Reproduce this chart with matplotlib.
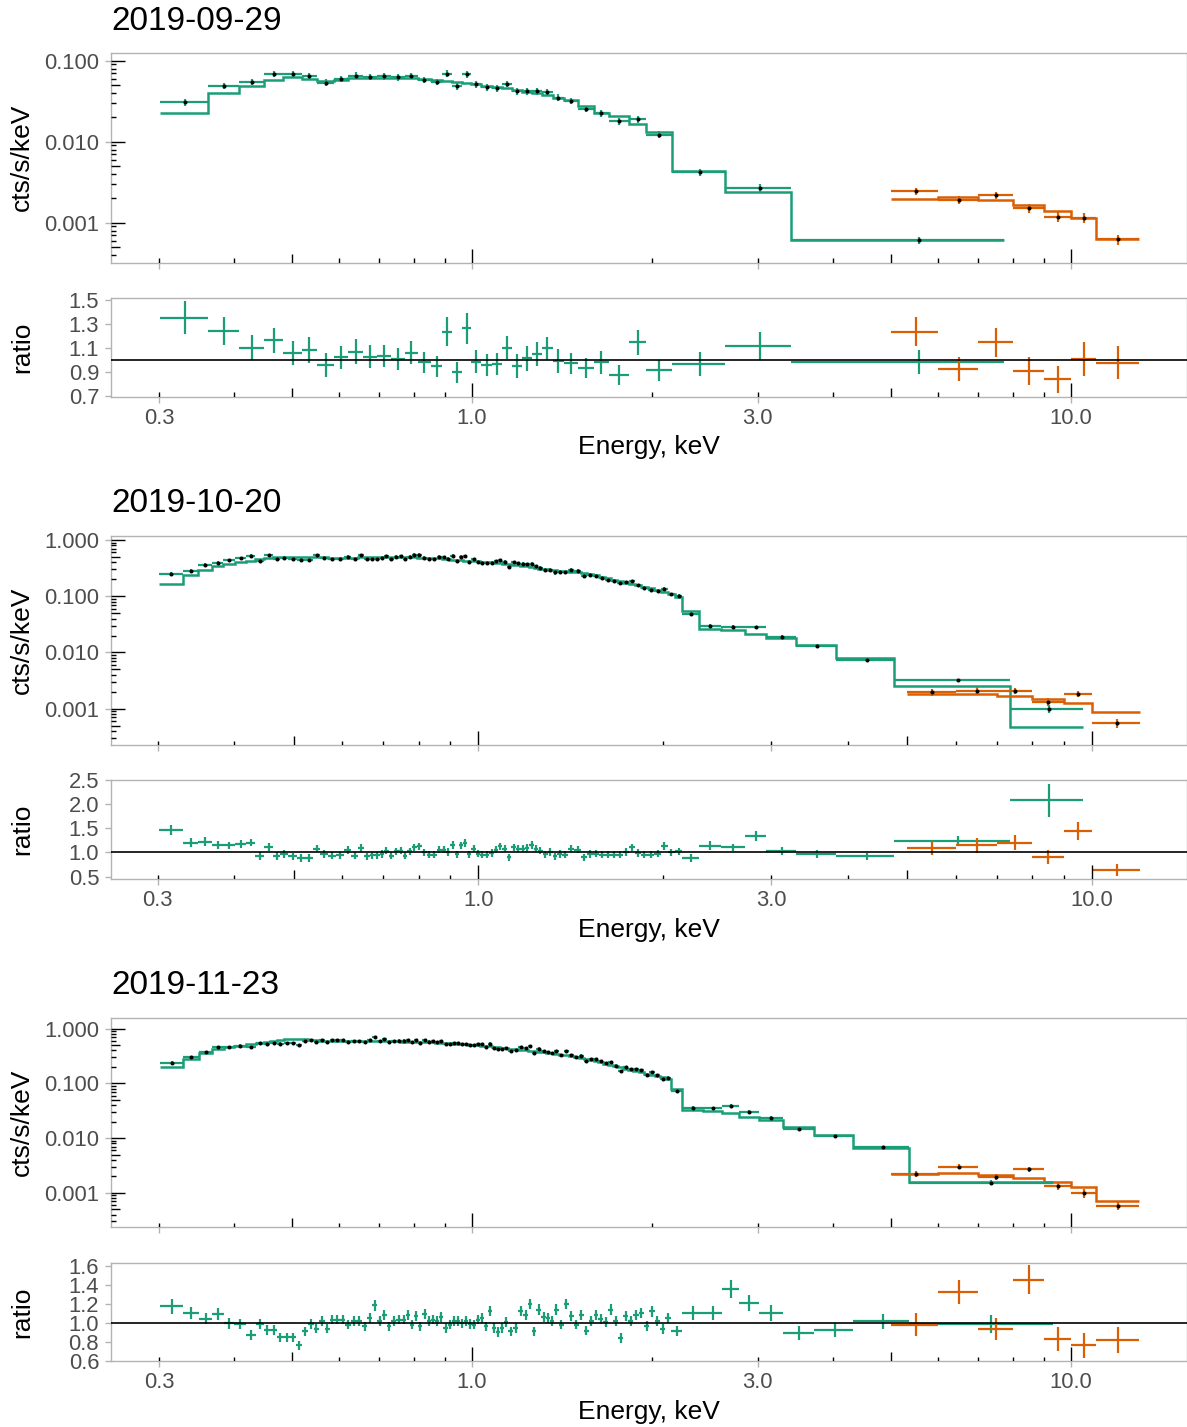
import numpy as np
import matplotlib
matplotlib.use('Agg')
import matplotlib.pyplot as plt

plt.rcParams['font.family'] = ['Liberation Sans', 'DejaVu Sans']

GREEN = '#1b9e77'
ORANGE = '#d95f02'

# ---------------- 2019-09-29 ----------------
p1_green_edges = [0.301, 0.362, 0.408, 0.450, 0.484, 0.519, 0.551, 0.588, 0.621, 0.658,
                  0.694, 0.732, 0.772, 0.812, 0.853, 0.892, 0.927, 0.961, 0.997, 1.036,
                  1.078, 1.121, 1.167, 1.212, 1.257, 1.306, 1.363, 1.425, 1.504, 1.595,
                  1.692, 1.826, 1.954, 2.156, 2.64, 3.41, 7.72]
p1_green_model = [0.0228, 0.0395, 0.0494, 0.0586, 0.0637, 0.0596, 0.0557, 0.0580, 0.0609, 0.0615,
                  0.0617, 0.0615, 0.0614, 0.0587, 0.0575, 0.0558, 0.0540, 0.0535, 0.0516, 0.0488,
                  0.0471, 0.0466, 0.0439, 0.0415, 0.0398, 0.0373, 0.0351, 0.0329, 0.0273, 0.0228,
                  0.0205, 0.0164, 0.0133, 0.00437, 0.00241, 0.000615]
p1_green_ratio = [1.356, 1.244, 1.106, 1.167, 1.064, 1.086, 0.961, 1.025, 1.072, 1.031,
                  1.039, 1.011, 1.064, 0.983, 0.950, 1.239, 0.900, 1.267, 0.989, 0.961,
                  0.967, 1.106, 0.953, 1.017, 1.050, 1.100, 0.994, 0.975, 0.933, 0.983,
                  0.878, 1.150, 0.919, 0.969, 1.122, 0.983]
p1_green_err = [0.139, 0.114, 0.105, 0.104, 0.100, 0.108, 0.097, 0.093, 0.105, 0.093,
                0.092, 0.094, 0.094, 0.090, 0.090, 0.122, 0.090, 0.129, 0.097, 0.094,
                0.093, 0.097, 0.097, 0.103, 0.100, 0.093, 0.097, 0.088, 0.083, 0.094,
                0.083, 0.104, 0.088, 0.097, 0.115, 0.100]
p1_orange_edges = [5, 6, 7, 8, 9, 10, 11, 13]
p1_orange_model = [0.00199, 0.00205, 0.00189, 0.00165, 0.00141, 0.00114, 0.000634]
p1_orange_ratio = [1.239, 0.928, 1.150, 0.911, 0.842, 1.011, 0.981]
p1_orange_err = [0.120, 0.104, 0.118, 0.114, 0.115, 0.140, 0.135]

# ---------------- 2019-10-20 ----------------
p2_green_edges = [0.302, 0.3296, 0.3495, 0.3675, 0.384, 0.4017, 0.4185, 0.433, 0.4479, 0.4622,
                  0.4757, 0.4901, 0.5057, 0.5218, 0.5377, 0.5527, 0.5689, 0.5861, 0.604, 0.6209,
                  0.6366, 0.6512, 0.6651, 0.6786, 0.6906, 0.702, 0.7144, 0.7278, 0.7416, 0.7536,
                  0.7661, 0.7787, 0.7934, 0.8085, 0.8238, 0.8395, 0.8553, 0.8715, 0.8869, 0.9003,
                  0.9163, 0.9313, 0.9443, 0.9596, 0.9741, 0.9901, 1.0064, 1.0242, 1.0423, 1.0594,
                  1.0768, 1.0944, 1.1123, 1.1322, 1.1522, 1.171, 1.1902, 1.2113, 1.2312, 1.2513,
                  1.2734, 1.2977, 1.3223, 1.3441, 1.3697, 1.4006, 1.4345, 1.4689, 1.5024, 1.5367,
                  1.5715, 1.6069, 1.6435, 1.6811, 1.7194, 1.7584, 1.7983, 1.8416, 1.8884, 1.9364,
                  1.9855, 2.0359, 2.09, 2.151,
                  2.29, 2.49, 2.72, 2.95, 3.30, 3.83, 4.76, 7.35, 9.69]
p2_green_model = [0.168, 0.236, 0.298, 0.342, 0.378, 0.405, 0.430, 0.455, 0.478, 0.495,
                  0.505, 0.508, 0.508, 0.505, 0.498, 0.490, 0.485, 0.484, 0.485, 0.487,
                  0.490, 0.493, 0.495, 0.496, 0.496, 0.496, 0.495, 0.494, 0.493, 0.492,
                  0.491, 0.490, 0.488, 0.485, 0.481, 0.476, 0.470, 0.463, 0.456, 0.449,
                  0.443, 0.437, 0.431, 0.426, 0.421, 0.416, 0.411, 0.405, 0.399, 0.393,
                  0.387, 0.380, 0.373, 0.366, 0.358, 0.349, 0.339, 0.328, 0.318, 0.309,
                  0.301, 0.294, 0.288, 0.283, 0.278, 0.272, 0.265, 0.256, 0.246, 0.235,
                  0.222, 0.208, 0.195, 0.184, 0.175, 0.167, 0.158, 0.148, 0.138, 0.128,
                  0.118, 0.108, 0.098,
                  0.0542, 0.0258, 0.0255, 0.0209, 0.0181, 0.01346, 0.00795, 0.00255, 0.000473]
p2_green_ratio = [1.466, 1.205, 1.226, 1.158, 1.144, 1.171, 1.205, 0.925, 1.110, 0.925,
                  0.966, 0.918, 0.884, 0.884, 1.075, 0.966, 0.932, 0.938, 1.048, 0.932,
                  1.089, 0.918, 0.938, 0.938, 0.966, 1.034, 0.932, 1.020, 1.034, 0.932,
                  1.020, 1.103, 1.123, 1.000, 0.952, 0.952, 1.055, 1.055, 1.007, 1.158,
                  0.966, 1.144, 1.190, 0.966, 1.075, 0.973, 0.952, 0.952, 0.986, 1.055,
                  1.123, 1.075, 0.897, 1.103, 1.075, 1.075, 1.089, 1.158, 1.075, 1.034,
                  0.966, 1.007, 0.918, 0.966,
                  0.952, 1.075, 1.055, 0.897, 0.966, 0.973, 0.952, 0.952, 0.952, 0.952,
                  1.007, 1.103, 0.986, 0.952, 0.952, 0.973, 1.137, 1.000, 1.020,
                  0.884, 1.137, 1.103, 1.342, 1.034, 0.966, 0.918, 1.247, 2.082]
p2_green_err = [0.110, 0.085, 0.084, 0.082, 0.080, 0.080, 0.080, 0.077, 0.078, 0.076,
                0.076, 0.075, 0.074, 0.074, 0.076, 0.075, 0.074, 0.074, 0.076, 0.074,
                0.076, 0.074, 0.074, 0.074, 0.075, 0.076, 0.074, 0.075, 0.076, 0.074,
                0.075, 0.077, 0.077, 0.075, 0.074, 0.074, 0.076, 0.076, 0.075, 0.077,
                0.074, 0.077, 0.078, 0.074, 0.076, 0.075, 0.074, 0.074, 0.075, 0.076,
                0.077, 0.076, 0.074, 0.077, 0.076, 0.076, 0.076, 0.077, 0.076, 0.076,
                0.074, 0.075, 0.074, 0.075,
                0.074, 0.076, 0.076, 0.074, 0.075, 0.075, 0.074, 0.074, 0.074, 0.075,
                0.076, 0.078, 0.076, 0.076, 0.076, 0.077, 0.080, 0.077, 0.078,
                0.075, 0.096, 0.080, 0.100, 0.080, 0.080, 0.070, 0.100, 0.340]
p2_orange_edges = [5, 6, 7, 8, 9, 10, 12]
p2_orange_model = [0.00179, 0.00184, 0.00171, 0.00147, 0.00127, 0.00086]
p2_orange_ratio = [1.089, 1.144, 1.205, 0.904, 1.445, 0.637]
p2_orange_err = [0.144, 0.154, 0.154, 0.137, 0.190, 0.116]

# ---------------- 2019-11-23 ----------------
p3_green_edges = [0.3013, 0.3288, 0.35, 0.3684, 0.3848, 0.4009, 0.4187, 0.4357, 0.4487, 0.4603,
                  0.4728, 0.4844, 0.4964, 0.5079, 0.5197, 0.5318, 0.5435, 0.5554, 0.5677, 0.5787,
                  0.5899, 0.6013, 0.6145, 0.6288, 0.6418, 0.6551, 0.6677, 0.6806, 0.6939, 0.7074,
                  0.7202, 0.7333, 0.7474, 0.762, 0.7758, 0.7877, 0.8012, 0.8136, 0.8263, 0.8402,
                  0.8531, 0.8673, 0.882, 0.8956, 0.9108, 0.9248, 0.9391, 0.9548, 0.9683, 0.9833,
                  0.9986, 1.0141, 1.0311, 1.0471, 1.0647, 1.0811, 1.0978, 1.1134, 1.1306, 1.1497,
                  1.1704, 1.1931, 1.2162, 1.2399, 1.259, 1.2803, 1.305, 1.3269, 1.3475, 1.3684,
                  1.3949, 1.4216, 1.449, 1.4773, 1.5058, 1.5349, 1.5649, 1.5951, 1.6255, 1.6569,
                  1.689, 1.7219, 1.7553, 1.789, 1.8239, 1.859, 1.8967, 1.936, 1.9758, 2.0166,
                  2.0582, 2.1008, 2.1473,
                  2.243, 2.43, 2.616, 2.79, 3.013, 3.304, 3.73, 4.33, 5.36, 9.33]
p3_green_model = [0.202, 0.275, 0.355, 0.420, 0.456, 0.493, 0.525, 0.552, 0.571, 0.596,
                  0.621, 0.635, 0.645, 0.648, 0.644, 0.630, 0.617, 0.608, 0.604, 0.600,
                  0.596, 0.593, 0.591, 0.588, 0.588, 0.588, 0.588, 0.588, 0.588, 0.588,
                  0.588, 0.587, 0.585, 0.583, 0.581, 0.579, 0.577, 0.575, 0.573, 0.571,
                  0.565, 0.559, 0.551, 0.544, 0.539, 0.533, 0.526, 0.525, 0.521, 0.514,
                  0.507, 0.500, 0.493, 0.484, 0.476, 0.466, 0.459, 0.451, 0.443, 0.434,
                  0.425, 0.415, 0.404, 0.397, 0.388, 0.379, 0.370, 0.360, 0.354, 0.344,
                  0.335, 0.324, 0.312, 0.302, 0.296, 0.284, 0.271, 0.253, 0.243, 0.230,
                  0.218, 0.208, 0.197, 0.186, 0.176, 0.169, 0.159, 0.150, 0.144, 0.138,
                  0.129, 0.121,
                  0.078, 0.0326, 0.0318, 0.0284, 0.0247, 0.0214, 0.0162, 0.01155, 0.00664, 0.00155]
p3_green_ratio = [1.179, 1.109, 1.049, 1.098, 1.000, 0.993, 0.874, 0.993, 0.933, 0.933,
                  0.853, 0.853, 0.853, 0.768, 0.916, 0.993, 0.944, 1.021, 0.944, 1.039,
                  1.039, 1.039, 0.986, 1.021, 1.021, 0.968, 1.056, 1.189, 1.021, 1.084,
                  0.968, 1.021, 1.039, 1.039, 1.084, 0.986, 1.074, 0.968, 1.098, 1.021,
                  1.039, 1.021, 1.063, 0.951, 0.986, 1.021, 1.021, 1.000, 1.021, 0.993,
                  0.986, 1.039, 1.056, 0.968, 1.126, 0.951, 0.909, 0.951, 1.014, 0.916,
                  0.951, 1.133, 1.091, 1.204, 0.916, 1.144, 1.063, 1.056, 1.021, 1.144,
                  0.986, 1.204, 1.074, 0.986, 1.091, 0.923, 1.028, 1.091, 1.046, 1.014,
                  1.144, 1.021, 0.846, 1.074, 1.028, 1.084, 1.109, 0.968, 1.126, 1.028,
                  0.940, 1.056,
                  0.923, 1.109, 1.109, 1.365, 1.214, 1.109, 0.898, 0.933, 1.021, 0.990]
p3_green_err = [0.080, 0.062, 0.060, 0.058, 0.056, 0.055, 0.054, 0.053, 0.052, 0.052,
                0.050, 0.050, 0.050, 0.048, 0.050, 0.050, 0.050, 0.051, 0.050, 0.051,
                0.051, 0.051, 0.050, 0.051, 0.051, 0.050, 0.052, 0.060, 0.051, 0.053,
                0.050, 0.051, 0.051, 0.051, 0.053, 0.050, 0.052, 0.050, 0.053, 0.051,
                0.051, 0.051, 0.052, 0.050, 0.050, 0.051, 0.051, 0.050, 0.051, 0.050,
                0.050, 0.051, 0.052, 0.050, 0.054, 0.050, 0.050, 0.050, 0.051, 0.050,
                0.050, 0.054, 0.053, 0.056, 0.050, 0.054, 0.052, 0.052, 0.051, 0.054,
                0.051, 0.056, 0.053, 0.051, 0.053, 0.051, 0.052, 0.053, 0.052, 0.052,
                0.055, 0.052, 0.050, 0.054, 0.053, 0.054, 0.055, 0.053, 0.055, 0.054,
                0.054, 0.056,
                0.053, 0.075, 0.075, 0.096, 0.088, 0.084, 0.070, 0.074, 0.077, 0.096]
p3_orange_edges = [5, 6, 7, 8, 9, 10, 11, 13]
p3_orange_model = [0.00224, 0.00226, 0.00210, 0.00184, 0.00159, 0.00128, 0.000705]
p3_orange_ratio = [0.986, 1.330, 0.940, 1.460, 0.835, 0.768, 0.825]
p3_orange_err = [0.118, 0.130, 0.116, 0.154, 0.126, 0.130, 0.135]

dates = ['2019-09-29', '2019-10-20', '2019-11-23']

W, H = 1187, 1427
fig = plt.figure(figsize=(W / 100, H / 100), dpi=100)
LEFT, RIGHT = 111, 1186.5


def rect(top, bottom):
    return [LEFT / W, 1 - bottom / H, (RIGHT - LEFT) / W, (bottom - top) / H]


def log_ticks(ax, lo, hi, axis, span_px):
    # black inward log ticks, ggplot annotation_logticks style
    vals, lens = [], []
    for e in range(int(np.floor(np.log10(lo))), int(np.ceil(np.log10(hi))) + 1):
        for k in range(1, 10):
            v = k * 10.0 ** e
            if lo <= v <= hi:
                vals.append(v)
                lens.append((14 if k == 1 else 9 if k == 5 else 4.5) / span_px)
    if axis == 'x':
        ax.vlines(vals, 0, lens, transform=ax.get_xaxis_transform(), color='black', lw=1.0, zorder=6)
    else:
        ax.hlines(vals, 0, lens, transform=ax.get_yaxis_transform(), color='black', lw=1.0, zorder=6)


def style(ax):
    for s in ax.spines.values():
        s.set_color('#b3b3b3')
        s.set_linewidth(1.0)
    ax.tick_params(which='major', direction='out', color='#b3b3b3', length=4.5, width=1.0,
                   labelcolor='#4d4d4d', labelsize=15.8)
    ax.tick_params(axis='x', pad=3.5)
    ax.tick_params(axis='y', pad=4)
    ax.minorticks_off()


def centers(edges):
    e = np.array(edges, dtype=float)
    c = (e[:-1] + e[1:]) / 2
    return c, [c - e[:-1], e[1:] - c]


panels = [
    dict(green=(p1_green_edges, p1_green_model, p1_green_ratio, p1_green_err),
         orange=(p1_orange_edges, p1_orange_model, p1_orange_ratio, p1_orange_err),
         spec=(52.7, 262.7), rat=(297.7, 396.7), xlim=(0.2495, 15.59),
         sylim=(0.000321, 0.1256), syt=[0.001, 0.01, 0.1],
         rylim=(0.697, 1.522), ryt=[0.7, 0.9, 1.1, 1.3, 1.5],
         title_y=21, xlab_y=447),
    dict(green=(p2_green_edges, p2_green_model, p2_green_ratio, p2_green_err),
         orange=(p2_orange_edges, p2_orange_model, p2_orange_ratio, p2_orange_err),
         spec=(536, 745), rat=(780, 879), xlim=(0.2518, 14.28),
         sylim=(0.000226, 1.178), syt=[0.001, 0.01, 0.1, 1.0],
         rylim=(0.45, 2.49), ryt=[0.5, 1.0, 1.5, 2.0, 2.5],
         title_y=503, xlab_y=930),
    dict(green=(p3_green_edges, p3_green_model, p3_green_ratio, p3_green_err),
         orange=(p3_orange_edges, p3_orange_model, p3_orange_ratio, p3_orange_err),
         spec=(1018, 1227), rat=(1262.7, 1361.3), xlim=(0.2495, 15.59),
         sylim=(0.000237, 1.569), syt=[0.001, 0.01, 0.1, 1.0],
         rylim=(0.6, 1.638), ryt=[0.6, 0.8, 1.0, 1.2, 1.4, 1.6],
         title_y=986, xlab_y=1412),
]

xt = [0.3, 1.0, 3.0, 10.0]
for p, date in zip(panels, dates):
    ax = fig.add_axes(rect(*p['spec']))
    axr = fig.add_axes(rect(*p['rat']))
    for key, col in (('green', GREEN), ('orange', ORANGE)):
        edges, model, ratio, err = p[key]
        model = np.array(model)
        ratio = np.array(ratio)
        err = np.array(err)
        c, xerr = centers(edges)
        data = model * ratio
        ax.stairs(model, edges, baseline=None, color=col, lw=1.8, zorder=2)
        ax.errorbar(c, data, xerr=xerr, yerr=err * model, fmt='none', ecolor=col,
                    elinewidth=1.6, capsize=0, zorder=3)
        ax.plot(c, data, 'o', color='black', ms=2.9, mec='none', zorder=4)
        axr.errorbar(c, ratio, xerr=xerr, yerr=err, fmt='none', ecolor=col,
                     elinewidth=1.6, capsize=0, zorder=3)
    axr.axhline(1.0, color='black', lw=1.2, zorder=4)

    for a in (ax, axr):
        a.set_xscale('log')
        a.set_xlim(*p['xlim'])
    ax.set_yscale('log')
    ax.set_ylim(*p['sylim'])
    axr.set_ylim(*p['rylim'])
    for a in (ax, axr):
        style(a)
    ax.set_xticks(xt, [''] * len(xt))
    axr.set_xticks(xt, ['0.3', '1.0', '3.0', '10.0'])
    ax.set_yticks(p['syt'], ['%.3f' % v for v in p['syt']])
    axr.set_yticks(p['ryt'], ['%.1f' % v for v in p['ryt']])

    sh = p['spec'][1] - p['spec'][0]
    rh = p['rat'][1] - p['rat'][0]
    log_ticks(ax, *p['xlim'], 'x', sh)
    log_ticks(axr, *p['xlim'], 'x', rh)
    log_ticks(ax, *p['sylim'], 'y', RIGHT - LEFT)

    fig.text(LEFT / W, 1 - p['title_y'] / H, date, fontsize=24, ha='left', va='center')
    fig.text(22 / W, 1 - (p['spec'][0] + p['spec'][1]) / 2 / H, 'cts/s/keV', rotation=90,
             fontsize=19, ha='center', va='center')
    fig.text(22 / W, 1 - (p['rat'][0] + p['rat'][1]) / 2 / H, 'ratio', rotation=90,
             fontsize=19, ha='center', va='center')
    fig.text((LEFT + RIGHT) / 2 / W, 1 - p['xlab_y'] / H, 'Energy, keV', fontsize=19,
             ha='center', va='center')

fig.savefig('out.png', dpi=100)
